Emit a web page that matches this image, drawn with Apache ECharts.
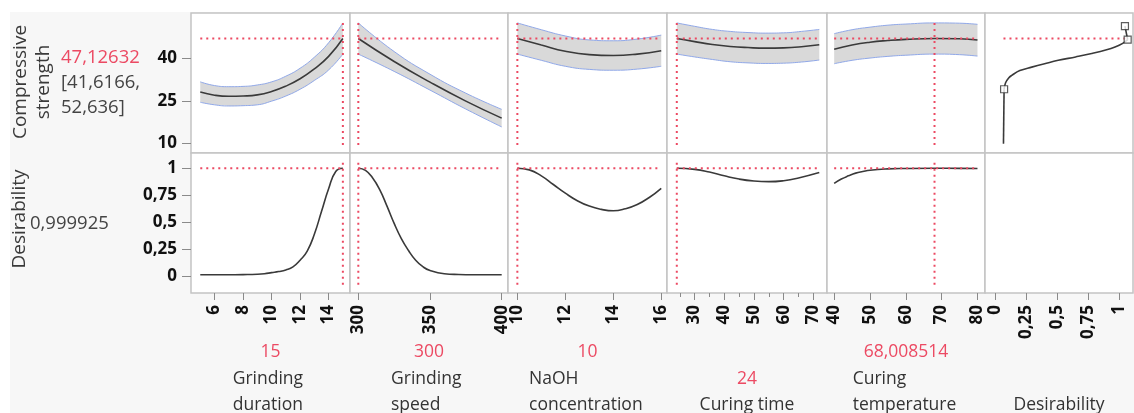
<!DOCTYPE html>
<html>
<head>
<meta charset="utf-8">
<script src="https://cdn.jsdelivr.net/npm/echarts@6/dist/echarts.min.js"></script>
<style>
  html, body { margin: 0; padding: 0; background: #fff; }
  #chart { width: 1134px; height: 413px; }
</style>
</head>
<body>
<div id="chart"></div>
<script>
// current settings of the profiler
var pred = 47.12632, predLow = 41.6166, predUp = 52.636, desVal = 0.999925;
var curDur = 15, curSpd = 300, curNa = 10, curCt = 24, curTt = 68.008514;

// Grinding duration
var durX    = [5, 6, 7, 8, 9, 10, 11, 12, 13, 14, 15];
var durMean = [28.2, 27.1, 26.7, 26.8, 27.2, 28.4, 30.3, 32.9, 36.4, 40.8, 47.1];
var durLow  = [24.6, 23.7, 23.3, 23.4, 23.7, 25.0, 26.8, 29.2, 32.3, 36.0, 41.6];
var durUp   = [31.8, 30.5, 30.1, 30.2, 30.7, 31.8, 33.8, 36.6, 40.5, 45.6, 52.6];
var durDesX = [5, 6, 7, 8, 9, 9.5, 10, 10.5, 11, 11.5, 12, 12.5, 13, 13.5, 14, 14.5, 15];
var durDes  = [0.015, 0.015, 0.016, 0.017, 0.02, 0.025, 0.035, 0.045, 0.06, 0.088, 0.15, 0.235, 0.39, 0.6, 0.81, 0.97, 1.0];

// Grinding speed
var spdX    = [300, 325, 350, 375, 400];
var spdMean = [47.1, 39.0, 31.7, 25.0, 19.0];
var spdLow  = [41.6, 35.5, 28.9, 22.2, 15.9];
var spdUp   = [52.6, 42.5, 34.5, 27.8, 22.1];
var spdDesX = [300, 305, 310, 315, 320, 325, 330, 335, 340, 345, 350, 360, 370, 380, 390, 400];
var spdDes  = [1.0, 0.98, 0.91, 0.80, 0.65, 0.49, 0.35, 0.24, 0.15, 0.09, 0.055, 0.025, 0.018, 0.016, 0.016, 0.016];

// NaOH concentration
var naX    = [10, 11, 12, 13, 14, 15, 16];
var naMean = [47.1, 44.8, 42.6, 41.4, 41.1, 41.6, 42.8];
var naLow  = [41.6, 39.4, 37.3, 36.2, 35.9, 36.3, 37.3];
var naUp   = [52.6, 50.2, 48.0, 46.6, 46.3, 46.9, 48.3];
var naDesX = [10, 10.5, 11, 11.5, 12, 12.5, 13, 13.5, 14, 14.5, 15, 15.5, 16];
var naDes  = [1.0, 0.985, 0.93, 0.85, 0.77, 0.70, 0.65, 0.62, 0.607, 0.625, 0.665, 0.73, 0.815];

// Curing time
var ctX    = [24, 30, 36, 42, 48, 54, 60, 66, 72];
var ctMean = [47.1, 46.0, 45.0, 44.3, 43.9, 43.7, 43.8, 44.2, 44.9];
var ctLow  = [41.6, 40.6, 39.7, 38.9, 38.5, 38.3, 38.4, 38.8, 39.5];
var ctUp   = [52.6, 51.4, 50.3, 49.6, 49.2, 49.0, 49.1, 49.6, 50.3];
var ctDesX = [24, 30, 35, 40, 45, 50, 55, 60, 65, 72];
var ctDes  = [1.0, 0.99, 0.965, 0.93, 0.90, 0.882, 0.876, 0.885, 0.91, 0.96];

// Curing temperature
var ttX    = [40, 45, 50, 55, 60, 68, 75, 80];
var ttMean = [43.3, 44.8, 45.8, 46.4, 46.8, 47.1, 47.0, 46.6];
var ttLow  = [38.2, 39.4, 40.2, 40.8, 41.2, 41.6, 41.4, 40.9];
var ttUp   = [48.8, 50.2, 51.1, 51.8, 52.2, 52.6, 52.5, 52.1];
var ttDesX = [40, 42, 44, 46, 48, 50, 55, 60, 68, 75, 80];
var ttDes  = [0.86, 0.90, 0.93, 0.955, 0.97, 0.982, 0.994, 0.998, 1.0, 0.999, 0.998];

// desirability function (desirability -> compressive strength)
var stemD  = [0.068, 0.073];
var stemY  = [10, 29.2];
var dfD    = [0.073, 0.085, 0.11, 0.135, 0.2, 0.296, 0.4, 0.51, 0.65, 0.78, 0.9, 0.968, 1.03, 1.07];
var dfY    = [29.2, 31.5, 33.2, 34.1, 35.8, 37.0, 38.2, 39.4, 40.6, 41.8, 43.1, 44.1, 45.4, 46.7];
var topD   = [1.07, 1.048];
var topY   = [46.7, 51.5];
var markD  = [0.073, 1.07, 1.048];
var markY  = [29.2, 46.7, 51.5];

// tick labels
var durTicks = [6, 8, 10, 12, 14];
var spdTicks = [300, 350, 400];
var naTicks  = [10, 12, 14, 16];
var ctTicks  = [30, 40, 50, 60, 70];
var ctMinor  = [25, 35, 45, 55, 65];
var ttTicks  = [40, 50, 60, 70, 80];
var desTicks = [0, 0.25, 0.5, 0.75, 1];
var strTicks = [10, 25, 40];

var names = [['Grinding', 'duration'], ['Grinding', 'speed'], ['NaOH', 'concentration'],
             ['Curing time'], ['Curing', 'temperature'], ['Desirability']];

var RED = '#ec4a63', FONT = '"Open Sans", "Noto Sans", sans-serif';

function fmt(v) { return String(v).replace('.', ','); }
function pts(xs, ys) { return xs.map(function (x, i) { return [x, ys[i]]; }); }
// [y, x] pairs, so that stacking happens on the y dimension
function yx(xs, ys) { return xs.map(function (x, i) { return [ys[i], x]; }); }
function diff(a, b) { return a.map(function (v, i) { return +(v - b[i]).toFixed(3); }); }

var panels = [
  {x: durX, mean: durMean, low: durLow, up: durUp, dx: durDesX, d: durDes, cur: curDur, min: 4.35, max: 15.5, ticks: durTicks},
  {x: spdX, mean: spdMean, low: spdLow, up: spdUp, dx: spdDesX, d: spdDes, cur: curSpd, min: 294.2, max: 404.4, ticks: spdTicks},
  {x: naX, mean: naMean, low: naLow, up: naUp, dx: naDesX, d: naDes, cur: curNa, min: 9.61, max: 16.24, ticks: naTicks},
  {x: ctX, mean: ctMean, low: ctLow, up: ctUp, dx: ctDesX, d: ctDes, cur: curCt, min: 20.7, max: 74.6, ticks: ctTicks},
  {x: ttX, mean: ttMean, low: ttLow, up: ttUp, dx: ttDesX, d: ttDes, cur: curTt, min: 38, max: 82.1, ticks: ttTicks}
];

var L = [191, 350, 508, 667, 827, 985];
var W = [159, 158, 159, 160, 158, 148];
var T = [13, 153];
var yTop = [6.7, 56.1], yBot = [-0.153, 1.141];

var grid = [], xAxis = [], yAxis = [], series = [];
var labelStyle = {fontFamily: FONT, fontWeight: 'bold', fontSize: 17, color: '#111'};

for (var r = 0; r < 2; r++) {
  for (var c = 0; c < 6; c++) {
    var gi = r * 6 + c;
    grid.push({left: L[c], top: T[r], width: W[c], height: 140, show: true,
      backgroundColor: '#fff', borderColor: '#c4c4c4', borderWidth: 1.5});
    var xmin = c < 5 ? panels[c].min : -0.081;
    var xmax = c < 5 ? panels[c].max : 1.113;
    var xt = c < 5 ? panels[c].ticks : desTicks;
    var showX = r === 1;
    xAxis.push({gridIndex: gi, type: 'value', position: 'bottom', min: xmin, max: xmax,
      axisLine: {show: false, onZero: false}, splitLine: {show: false},
      axisTick: {show: showX, customValues: xt, length: 7, lineStyle: {color: '#8a8a8a'}},
      axisLabel: Object.assign({show: showX, customValues: xt, rotate: 90, margin: 12, formatter: fmt}, labelStyle)});
    var yr = r === 0 ? yTop : yBot;
    var yt = r === 0 ? strTicks : desTicks;
    var showY = c === 0;
    yAxis.push({gridIndex: gi, type: 'value', position: 'left', min: yr[0], max: yr[1],
      axisLine: {show: false, onZero: false}, splitLine: {show: false},
      axisTick: {show: showY, customValues: yt, length: 9, lineStyle: {color: '#8a8a8a'}},
      axisLabel: Object.assign({show: showY, customValues: yt, margin: 14, formatter: fmt}, labelStyle)});
  }
}
// minor ticks on curing time
xAxis.push({gridIndex: 9, type: 'value', position: 'bottom', min: panels[3].min, max: panels[3].max,
  axisLine: {show: false, onZero: false}, splitLine: {show: false}, axisLabel: {show: false},
  axisTick: {show: true, customValues: ctMinor, length: 4, lineStyle: {color: '#8a8a8a'}}});

function line(gi, data, color, width, smooth, z, extra) {
  return Object.assign({type: 'line', xAxisIndex: gi, yAxisIndex: gi, data: data, symbol: 'none',
    smooth: smooth, silent: true, z: z, lineStyle: {color: color, width: width}}, extra || {});
}
function redLine(gi, data) {
  return line(gi, data, RED, 2, false, 6, {lineStyle: {color: RED, width: 2, type: [2, 4]}});
}

panels.forEach(function (p, c) {
  var gt = c, gb = 6 + c;
  var x0 = p.x[0], x1 = p.x[p.x.length - 1];
  // confidence band: lower edge + (upper - lower) stacked
  series.push(line(gt, yx(p.x, p.low), '#000', 0, true, 1,
    {stack: 'band' + c, encode: {x: 1, y: 0}, lineStyle: {opacity: 0}}));
  series.push(line(gt, yx(p.x, diff(p.up, p.low)), '#000', 0, true, 1,
    {stack: 'band' + c, encode: {x: 1, y: 0}, lineStyle: {opacity: 0},
     areaStyle: {color: '#d9d9d9', opacity: 1}}));
  series.push(line(gt, pts(p.x, p.low), '#90a8e8', 1, true, 2));
  series.push(line(gt, pts(p.x, p.up), '#90a8e8', 1, true, 2));
  series.push(line(gt, pts(p.x, p.mean), '#3a3a3a', 1.6, true, 4));
  series.push(redLine(gt, [[x0, pred], [x1, pred]]));
  series.push(redLine(gt, [[p.cur, 9.5], [p.cur, 53.5]]));

  series.push(line(gb, pts(p.dx, p.d), '#3a3a3a', 1.6, true, 4));
  series.push(redLine(gb, [[x0, desVal], [x1, desVal]]));
  series.push(redLine(gb, [[p.cur, -0.077], [p.cur, 1.06]]));
});

// desirability function panel
series.push(redLine(5, [[stemD[0], pred], [topD[0], pred]]));
series.push(line(5, pts(stemD, stemY), '#3a3a3a', 1.6, false, 4));
series.push(line(5, pts(dfD, dfY), '#3a3a3a', 1.6, 0.4, 4));
series.push(line(5, pts(topD, topY), '#3a3a3a', 1.6, false, 4));
series.push({type: 'scatter', xAxisIndex: 5, yAxisIndex: 5, data: pts(markD, markY), symbol: 'rect',
  symbolSize: 7, silent: true, z: 7, itemStyle: {color: '#fff', borderColor: '#333', borderWidth: 1.2}});

// texts
var graphic = [{type: 'rect', z: -10, shape: {x: 10, y: 12, width: 1124, height: 401}, style: {fill: '#f7f7f7'}}];
function txt(text, x, y, color, align, rot, size) {
  return {type: 'text', x: x, y: y, rotation: rot || 0, z: 10,
    style: {text: text, fill: color, font: (size || 17.5) + 'px ' + FONT, textAlign: align || 'left',
      textVerticalAlign: 'middle', lineHeight: 23}};
}
graphic.push(txt('Compressive\nstrength', 32, 82, '#3a3a3a', 'center', Math.PI / 2, 19));
graphic.push(txt('Desirability', 20, 219, '#3a3a3a', 'center', Math.PI / 2, 19));
graphic.push(txt(fmt(pred), 61, 58, RED, 'left', 0, 18.5));
graphic.push(txt('[' + fmt(predLow) + ',', 61, 83, '#444', 'left', 0, 18.5));
graphic.push(txt(fmt(predUp) + ']', 61, 108, '#444', 'left', 0, 18.5));
graphic.push(txt(fmt(desVal), 30, 224, '#444', 'left', 0, 18.5));

var curVals = [curDur, curSpd, curNa, curCt, curTt];
var nameLeft = [232.7, 391, 529, null, 852.7, null];
for (var c = 0; c < 6; c++) {
  var cx = L[c] + W[c] / 2;
  var nm = names[c];
  if (c < 5) {
    graphic.push(txt(fmt(curVals[c]), cx, nm.length === 2 ? 352 : 379, RED, 'center'));
  }
  if (nm.length === 2) {
    graphic.push(txt(nm[0], nameLeft[c], 379, '#333'));
    graphic.push(txt(nm[1], nameLeft[c], 405, '#333'));
  } else {
    graphic.push(txt(nm[0], cx, 405, '#333', 'center'));
  }
}

var chart = echarts.init(document.getElementById('chart'));
chart.setOption({
  animation: false,
  grid: grid,
  xAxis: xAxis,
  yAxis: yAxis,
  series: series,
  graphic: graphic
});
</script>
</body>
</html>
